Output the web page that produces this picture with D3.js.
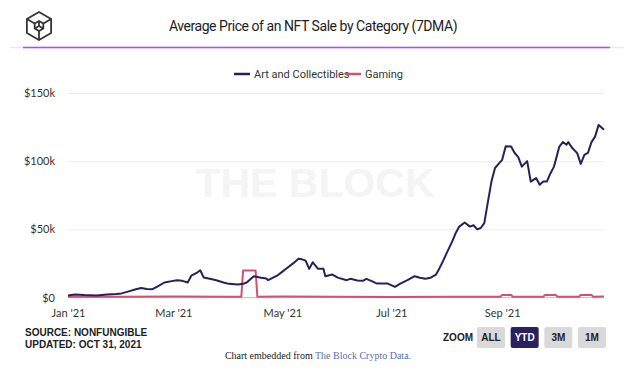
<!DOCTYPE html>
<html>
<head>
<meta charset="utf-8">
<script src="https://cdn.jsdelivr.net/npm/d3@7"></script>
<style>
  body { margin: 0; background: #fff; }
  svg { display: block; }
</style>
</head>
<body>
<svg id="mount" width="624" height="370"></svg>
<script>
var colorArt = "#27215a";
var colorGaming = "#d4506f";
var colorGrid = "#ececec";
var colorText = "#333333";

var seriesNames = ["Art and Collectibles", "Gaming"];
var yTicks = [0, 50000, 100000, 150000];
var xTicks = ["2021-01-01", "2021-03-01", "2021-05-01", "2021-07-01", "2021-09-01"];
var zoomButtons = ["ALL", "YTD", "3M", "1M"];

// Art and Collectibles, 7 day moving average (USD thousands)
var artDates = [
  "2021-01-01", "2021-01-05", "2021-01-10", "2021-01-17", "2021-01-23", "2021-01-28",
  "2021-01-31", "2021-02-04", "2021-02-08", "2021-02-11", "2021-02-14", "2021-02-17",
  "2021-02-20", "2021-02-24", "2021-02-28", "2021-03-03", "2021-03-06", "2021-03-09",
  "2021-03-11", "2021-03-14", "2021-03-16", "2021-03-18", "2021-03-22", "2021-03-25",
  "2021-03-29", "2021-04-01", "2021-04-06", "2021-04-09", "2021-04-11", "2021-04-15",
  "2021-04-19", "2021-04-22", "2021-04-23", "2021-04-28", "2021-05-01", "2021-05-04",
  "2021-05-07", "2021-05-10", "2021-05-12", "2021-05-14", "2021-05-16", "2021-05-18",
  "2021-05-21", "2021-05-24", "2021-05-25", "2021-05-29", "2021-06-01", "2021-06-06",
  "2021-06-08", "2021-06-12", "2021-06-15", "2021-06-17", "2021-06-20", "2021-06-23",
  "2021-06-29", "2021-07-03", "2021-07-06", "2021-07-10", "2021-07-14", "2021-07-17",
  "2021-07-20", "2021-07-23", "2021-07-26", "2021-07-28", "2021-07-30", "2021-08-01",
  "2021-08-04", "2021-08-06", "2021-08-08", "2021-08-11", "2021-08-14", "2021-08-16",
  "2021-08-18", "2021-08-20", "2021-08-22", "2021-08-24", "2021-08-26", "2021-08-28",
  "2021-08-30", "2021-09-01", "2021-09-03", "2021-09-06", "2021-09-08", "2021-09-10",
  "2021-09-12", "2021-09-15", "2021-09-17", "2021-09-20", "2021-09-22", "2021-09-24",
  "2021-09-26", "2021-09-28", "2021-09-30", "2021-10-03", "2021-10-05", "2021-10-07",
  "2021-10-08", "2021-10-10", "2021-10-13", "2021-10-15", "2021-10-17", "2021-10-19",
  "2021-10-21", "2021-10-23", "2021-10-25", "2021-10-28"
];
var artValues = [
  1.5, 2.2, 1.8, 1.5, 2.2, 2.5,
  3.0, 4.5, 6.0, 7.0, 6.2, 6.0,
  8.0, 11.0, 12.0, 12.7, 12.2, 11.0,
  16.0, 18.0, 20.0, 14.6, 13.5, 12.7,
  11.0, 10.0, 9.5, 10.0, 11.0, 15.6,
  14.5, 14.0, 12.7, 16.0, 19.0, 22.0,
  25.0, 28.5, 28.0, 27.0, 21.0, 25.8,
  21.0, 21.0, 15.6, 16.8, 14.6, 12.7,
  13.7, 12.5, 12.2, 13.7, 12.0, 10.2,
  10.2, 7.8, 10.2, 12.7, 15.6, 14.5,
  13.7, 14.5, 16.8, 21.7, 27.0, 32.7,
  41.0, 47.3, 52.0, 55.0, 52.0, 53.0,
  50.0, 51.0, 54.6, 70.0, 85.0, 95.0,
  98.0, 101.0, 111.0, 110.7, 106.0, 103.0,
  96.0, 100.0, 85.0, 87.6, 82.7, 85.0,
  85.0, 91.0, 96.0, 110.7, 114.0, 112.0,
  114.0, 110.0, 105.9, 98.0, 104.6, 106.0,
  114.0, 118.0, 126.6, 123.0
];

// Gaming, 7 day moving average (USD thousands)
var gamingDates = [
  "2021-01-01", "2021-02-01", "2021-03-01", "2021-04-01", "2021-04-08", "2021-04-09",
  "2021-04-16", "2021-04-17", "2021-05-01", "2021-06-01", "2021-07-01", "2021-08-01",
  "2021-08-31", "2021-09-01", "2021-09-06", "2021-09-07", "2021-09-24", "2021-09-25",
  "2021-10-01", "2021-10-02", "2021-10-14", "2021-10-15", "2021-10-21", "2021-10-22",
  "2021-10-28"
];
var gamingValues = [
  0.6, 0.5, 0.8, 0.6, 0.5, 19.8,
  19.8, 0.5, 0.7, 0.5, 0.4, 0.5,
  0.5, 1.8, 1.8, 0.5, 0.6, 1.8,
  1.8, 0.5, 0.5, 1.8, 1.8, 0.5,
  0.8
];

var parseDate = d3.timeParse("%Y-%m-%d");

function toPoints(dates, values) {
  return dates.map(function(d, i) {
    return { date: parseDate(d), value: values[i] * 1000 };
  });
}

var svg = d3.select("#mount");
var fontSans = "Lato, 'Open Sans', sans-serif";

// Header: logo, title and the purple rule
var logo = svg.append("g")
  .attr("transform", "translate(39,26)")
  .attr("fill", "none")
  .attr("stroke", colorText)
  .attr("stroke-width", 1.8)
  .attr("stroke-linejoin", "round");

function hexPoints(r) {
  return d3.range(6).map(function(i) {
    var a = Math.PI / 3 * i - Math.PI / 2;
    return [r * Math.cos(a), r * Math.sin(a)];
  });
}
var outer = hexPoints(14);
var inner = hexPoints(5);
logo.append("path").attr("d", "M" + outer.join("L") + "Z");
logo.append("path").attr("d", "M" + inner.join("L") + "Z");
[1, 3, 5].forEach(function(i) {
  logo.append("line")
    .attr("x1", inner[i][0]).attr("y1", inner[i][1])
    .attr("x2", outer[i][0]).attr("y2", outer[i][1]);
});
[0, 2, 4].forEach(function(i) {
  logo.append("line")
    .attr("x1", 0).attr("y1", 0)
    .attr("x2", inner[i][0]).attr("y2", inner[i][1]);
});

svg.append("text")
  .attr("x", 313)
  .attr("y", 31)
  .attr("text-anchor", "middle")
  .attr("font-family", "Roboto, sans-serif")
  .attr("font-size", 14)
  .attr("letter-spacing", -0.45)
  .attr("fill", "#222")
  .text("Average Price of an NFT Sale by Category (7DMA)");

svg.append("line")
  .attr("x1", 10).attr("x2", 624)
  .attr("y1", 47.5).attr("y2", 47.5)
  .attr("stroke", "#efe3ff")
  .attr("stroke-width", 1.5);
svg.append("line")
  .attr("x1", 23).attr("x2", 610)
  .attr("y1", 47.5).attr("y2", 47.5)
  .attr("stroke", "#a64dff")
  .attr("stroke-width", 1.5);

// Legend
var legendX = [234, 345];
var legendColors = [colorArt, colorGaming];
seriesNames.forEach(function(name, i) {
  var item = svg.append("g").attr("transform", "translate(" + legendX[i] + ",74)");
  item.append("line")
    .attr("x1", 0).attr("x2", 16)
    .attr("stroke", legendColors[i])
    .attr("stroke-width", 2.5);
  item.append("text")
    .attr("x", 20)
    .attr("y", 4)
    .attr("font-family", "Roboto, sans-serif")
    .attr("font-size", 11)
    .attr("fill", colorText)
    .text(name);
});

// Scales
var xScale = d3.scaleTime()
  .domain([parseDate("2021-01-01"), parseDate("2021-10-28")])
  .range([68, 604]);
var yScale = d3.scaleLinear()
  .domain([0, 150000])
  .range([297.5, 93]);

// Watermark
svg.append("text")
  .attr("x", 315)
  .attr("y", 197)
  .attr("text-anchor", "middle")
  .attr("font-family", "'Liberation Sans', Arial, sans-serif")
  .attr("font-weight", "bold")
  .attr("font-size", 41)
  .attr("fill", "#f4f4f4")
  .text("THE BLOCK");

// Grid and y labels
var yAxis = svg.append("g")
  .attr("transform", "translate(68,0)")
  .call(d3.axisLeft(yScale)
    .tickValues(yTicks)
    .tickSize(-536)
    .tickPadding(13)
    .tickFormat(function(d) { return "$" + (d / 1000) + (d ? "k" : ""); }));
yAxis.select(".domain").remove();
yAxis.selectAll(".tick line").attr("stroke", colorGrid);
yAxis.selectAll(".tick text")
  .attr("font-family", fontSans)
  .attr("font-size", 11)
  .attr("fill", colorText);

// x labels
var xAxis = svg.append("g")
  .attr("transform", "translate(0,297.5)")
  .call(d3.axisBottom(xScale)
    .tickValues(xTicks.map(parseDate))
    .tickSize(0)
    .tickPadding(12)
    .tickFormat(d3.timeFormat("%b '%y")));
xAxis.select(".domain")
  .attr("stroke", "#c8c8c8")
  .attr("d", "M68,0H604");
xAxis.selectAll(".tick text")
  .attr("font-family", fontSans)
  .attr("font-size", 11)
  .attr("fill", colorText);

// Lines
var line = d3.line()
  .x(function(d) { return xScale(d.date); })
  .y(function(d) { return yScale(d.value); });

svg.append("path")
  .datum(toPoints(gamingDates, gamingValues))
  .attr("fill", "none")
  .attr("stroke", colorGaming)
  .attr("stroke-width", 2)
  .attr("stroke-linejoin", "round")
  .attr("d", line);

svg.append("path")
  .datum(toPoints(artDates, artValues))
  .attr("fill", "none")
  .attr("stroke", colorArt)
  .attr("stroke-width", 2)
  .attr("stroke-linejoin", "round")
  .attr("d", line);

// Footer: source and zoom buttons
var footer = svg.append("g")
  .attr("font-family", "'Liberation Sans', Arial, sans-serif")
  .attr("font-weight", "bold")
  .attr("font-size", 10)
  .attr("fill", "#222");
footer.append("text").attr("x", 25).attr("y", 336).text("SOURCE: NONFUNGIBLE");
footer.append("text").attr("x", 25).attr("y", 348).text("UPDATED: OCT 31, 2021");
footer.append("text").attr("x", 443).attr("y", 341).text("ZOOM");

var buttonX = d3.scalePoint()
  .domain(zoomButtons)
  .range([477, 578]);
zoomButtons.forEach(function(label) {
  var active = label === "YTD";
  var b = footer.append("g").attr("transform", "translate(" + buttonX(label) + ",327)");
  b.append("rect")
    .attr("width", 28)
    .attr("height", 21)
    .attr("rx", 2)
    .attr("fill", active ? "#2a2160" : "#d9d9d9");
  b.append("text")
    .attr("x", 14)
    .attr("y", 14)
    .attr("text-anchor", "middle")
    .attr("fill", active ? "#fff" : "#222")
    .text(label);
});

var embed = svg.append("text")
  .attr("x", 318)
  .attr("y", 359)
  .attr("text-anchor", "middle")
  .attr("font-family", "'Liberation Serif', 'Times New Roman', serif")
  .attr("font-size", 10)
  .attr("fill", "#222");
embed.append("tspan").text("Chart embedded from ");
embed.append("tspan").attr("fill", "#5a6fb0").text("The Block Crypto Data.");
</script>
</body>
</html>
